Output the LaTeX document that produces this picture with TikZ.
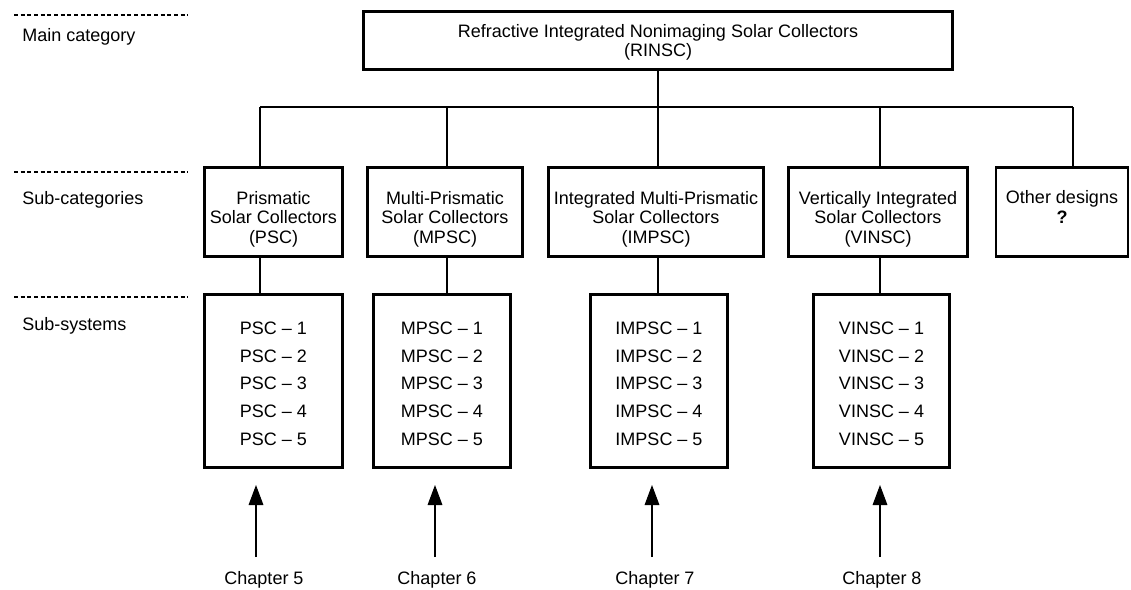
\documentclass[tikz,border=0pt]{standalone}
\usepackage{fontspec}
\setmainfont{Liberation Sans}
\usetikzlibrary{arrows.meta}
\newcommand\pxu{0.75pt}
\newcommand\txtlines[2]{\raisebox{#1}[\height][\depth]{\begin{tabular}{@{}c@{}}#2\end{tabular}}}
\begin{document}
\begin{tikzpicture}[x=0.75pt, y=-0.75pt,
  every node/.style={inner sep=0pt, font=\fontsize{13.5pt}{14.6pt}\selectfont},
  lvl/.style={anchor=base west},
  chap/.style={anchor=base},
  bigbox/.style={draw, line width=2.2pt, rectangle},
  catbox/.style={draw, line width=2.2pt, rectangle, minimum height={(92-3)*\pxu}},
  sysbox/.style={draw, line width=2.2pt, rectangle, minimum height={(176-3)*\pxu},
    font=\fontsize{13.5pt}{20.85pt}\selectfont},
  conn/.style={line width=0.8pt},
  guide/.style={line width=0.8pt, dash pattern=on 3pt off 2pt},
  arr/.style={line width=0.8pt, -{Triangle[width=11pt,length=15pt]}}
]
\useasboundingbox (0,0) rectangle (1131,589);

% level guides and labels
\draw[guide] (14,15) -- (188,15);
\draw[guide] (14,172) -- (188,172);
\draw[guide] (14,297) -- (188,297);
\node[lvl] (lmain) at (22,41.5) {Main category};
\node[lvl] (lcat) at (22,204.5) {Sub-categories};
\node[lvl] (lsys) at (22,330.5) {Sub-systems};

% main category
\node[bigbox, minimum width={(592-3)*\pxu}, minimum height={(61-3)*\pxu}] (main) at (658,40.5)
  {\txtlines{-1.9pt}{Refractive Integrated Nonimaging Solar Collectors\\(RINSC)}};

% sub-categories
\node[catbox, minimum width={(141-3)*\pxu}] (psc) at (273.5,212)
  {\txtlines{-5.9pt}{Prismatic\\Solar Collectors\\(PSC)}};
\node[catbox, minimum width={(158-3)*\pxu}] (mpsc) at (445,212)
  {\txtlines{-5.9pt}{Multi-Prismatic\\Solar Collectors\\(MPSC)}};
\node[catbox, minimum width={(218-3)*\pxu}] (impsc) at (656,212)
  {\txtlines{-5.9pt}{Integrated Multi-Prismatic\\Solar Collectors\\(IMPSC)}};
\node[catbox, minimum width={(182-3)*\pxu}] (vinsc) at (878,212)
  {\txtlines{-5.9pt}{Vertically Integrated\\Solar Collectors\\(VINSC)}};
\node[catbox, line width=1.6pt, minimum width={(134-2)*\pxu}] (other) at (1062,212)
  {\txtlines{1.8pt}{Other designs\\\textbf{?}}};

% sub-systems
\node[sysbox, minimum width={(141-3)*\pxu}] (psys) at (273.5,381)
  {\txtlines{-2.55pt}{PSC \textendash{} 1\\PSC \textendash{} 2\\PSC \textendash{} 3\\PSC \textendash{} 4\\PSC \textendash{} 5}};
\node[sysbox, minimum width={(140-3)*\pxu}] (msys) at (442,381)
  {\txtlines{-2.55pt}{MPSC \textendash{} 1\\MPSC \textendash{} 2\\MPSC \textendash{} 3\\MPSC \textendash{} 4\\MPSC \textendash{} 5}};
\node[sysbox, minimum width={(140-3)*\pxu}] (isys) at (659,381)
  {\txtlines{-2.55pt}{IMPSC \textendash{} 1\\IMPSC \textendash{} 2\\IMPSC \textendash{} 3\\IMPSC \textendash{} 4\\IMPSC \textendash{} 5}};
\node[sysbox, minimum width={(139-3)*\pxu}] (vsys) at (881.5,381)
  {\txtlines{-2.55pt}{VINSC \textendash{} 1\\VINSC \textendash{} 2\\VINSC \textendash{} 3\\VINSC \textendash{} 4\\VINSC \textendash{} 5}};

% tree connectors
\coordinate (j1) at (260,107);
\coordinate (j2) at (447,107);
\coordinate (j3) at (658,107);
\coordinate (j4) at (880,107);
\coordinate (j5) at (1073,107);
\draw[conn] (main.south) -- (j3);
\draw[conn] (j1) -- (j5);
\draw[conn] (j1) -- (j1 |- psc.north);
\draw[conn] (j2) -- (j2 |- mpsc.north);
\draw[conn] (j3) -- (j3 |- impsc.north);
\draw[conn] (j4) -- (j4 |- vinsc.north);
\draw[conn] (j5) -- (j5 |- other.north);
\draw[conn] (j1 |- psc.south) -- (j1 |- psys.north);
\draw[conn] (j2 |- mpsc.south) -- (j2 |- msys.north);
\draw[conn] (j3 |- impsc.south) -- (j3 |- isys.north);
\draw[conn] (j4 |- vinsc.south) -- (j4 |- vsys.north);

% chapters
\node[chap] (ch5) at (264,584.5) {Chapter 5};
\node[chap] (ch6) at (437,584.5) {Chapter 6};
\node[chap] (ch7) at (655,584.5) {Chapter 7};
\node[chap] (ch8) at (882,584.5) {Chapter 8};
\coordinate (t5) at (256,485); \coordinate (b5) at (256,557);
\coordinate (t6) at (435,485); \coordinate (b6) at (435,557);
\coordinate (t7) at (652,485); \coordinate (b7) at (652,557);
\coordinate (t8) at (880,485); \coordinate (b8) at (880,557);
\draw[arr] (b5) -- (t5);
\draw[arr] (b6) -- (t6);
\draw[arr] (b7) -- (t7);
\draw[arr] (b8) -- (t8);
\end{tikzpicture}
\end{document}
